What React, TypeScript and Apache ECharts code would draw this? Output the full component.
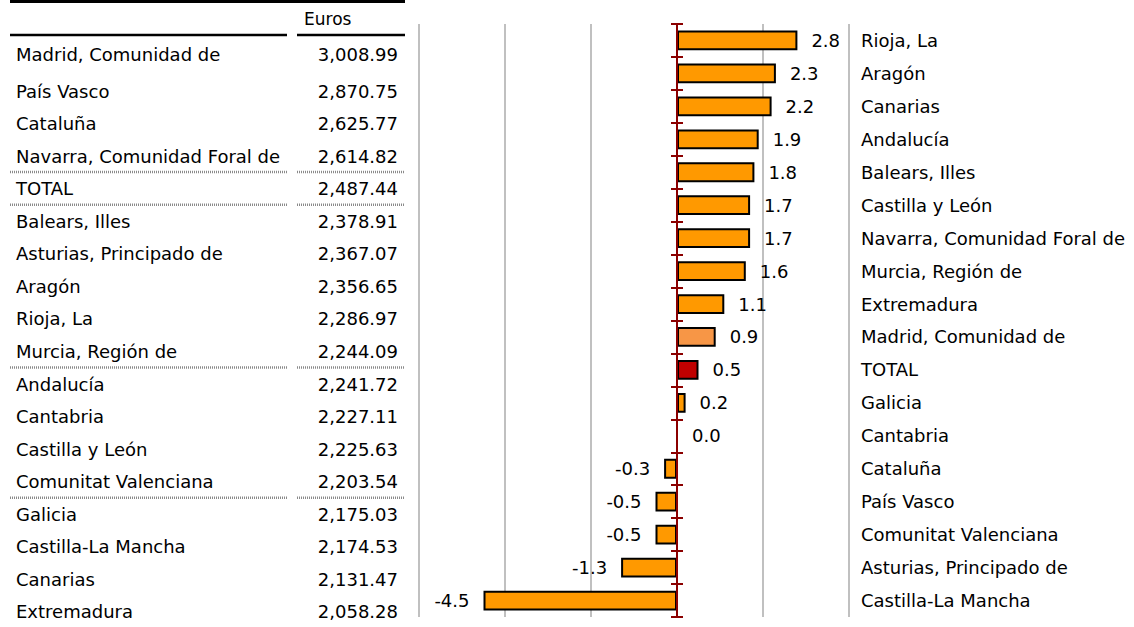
import React, { useEffect, useRef } from "react";
import * as echarts from "echarts";

// Chart: annual growth rate (%) by region, top to bottom
const categories = [
  "Rioja, La",
  "Aragón",
  "Canarias",
  "Andalucía",
  "Balears, Illes",
  "Castilla y León",
  "Navarra, Comunidad Foral de",
  "Murcia, Región de",
  "Extremadura",
  "Madrid, Comunidad de",
  "TOTAL",
  "Galicia",
  "Cantabria",
  "Cataluña",
  "País Vasco",
  "Comunitat Valenciana",
  "Asturias, Principado de",
  "Castilla-La Mancha",
];
const growth = [2.8, 2.3, 2.2, 1.9, 1.8, 1.7, 1.7, 1.6, 1.1, 0.9, 0.5, 0.2, 0.0, -0.3, -0.5, -0.5, -1.3, -4.5];

// Table: euros by region
const tableHeader = "Euros";
const tableNames = [
  "Madrid, Comunidad de",
  "País Vasco",
  "Cataluña",
  "Navarra, Comunidad Foral de",
  "TOTAL",
  "Balears, Illes",
  "Asturias, Principado de",
  "Aragón",
  "Rioja, La",
  "Murcia, Región de",
  "Andalucía",
  "Cantabria",
  "Castilla y León",
  "Comunitat Valenciana",
  "Galicia",
  "Castilla-La Mancha",
  "Canarias",
  "Extremadura",
];
const tableEuros = [
  3008.99, 2870.75, 2625.77, 2614.82, 2487.44, 2378.91, 2367.07, 2356.65, 2286.97,
  2244.09, 2241.72, 2227.11, 2225.63, 2203.54, 2175.03, 2174.53, 2131.47, 2058.28,
];
// rows after which a dotted separator is drawn
const separatorAfter = ["Navarra, Comunidad Foral de", "TOTAL", "Murcia, Región de", "Comunitat Valenciana"];

const FONT = "DejaVu Sans";
const FS = 18;

function barColor(name: string): string {
  if (name === "TOTAL") return "#C00000";
  if (name === "Madrid, Comunidad de") return "#F79646";
  return "#FF9900";
}

function fmtEuro(v: number): string {
  return v.toLocaleString("en-US", { minimumFractionDigits: 2, maximumFractionDigits: 2 });
}

export default function App() {
  const ref = useRef<HTMLDivElement>(null);

  useEffect(() => {
    if (!ref.current) return;
    const chart = echarts.init(ref.current, undefined, { renderer: "svg" });

    const rowY = (i: number) => (i === 0 ? 54 : 91 + (i - 1) * 32.56);

    const graphics: any[] = [];
    // top thick rule
    graphics.push({ type: "line", shape: { x1: 10, y1: 1.5, x2: 405, y2: 1.5 }, style: { stroke: "#000", lineWidth: 3 } });
    // header
    graphics.push({
      type: "text",
      x: 304,
      y: 19,
      style: { text: tableHeader, fill: "#000", font: `${FS - 1}px "${FONT}"`, textVerticalAlign: "middle" },
    });
    graphics.push({ type: "line", shape: { x1: 10, y1: 35, x2: 287, y2: 35 }, style: { stroke: "#000", lineWidth: 2.5 } });
    graphics.push({ type: "line", shape: { x1: 297, y1: 35, x2: 405, y2: 35 }, style: { stroke: "#000", lineWidth: 2.5 } });

    tableNames.forEach((name, i) => {
      const y = rowY(i);
      graphics.push({
        type: "text",
        x: 16,
        y,
        style: { text: name, fill: "#000", font: `${FS}px "${FONT}"`, textVerticalAlign: "middle" },
      });
      graphics.push({
        type: "text",
        x: 398,
        y,
        style: {
          text: fmtEuro(tableEuros[i]),
          fill: "#000",
          font: `${FS}px "${FONT}"`,
          textAlign: "right",
          textVerticalAlign: "middle",
        },
      });
      if (separatorAfter.includes(name)) {
        const sy = y + 16;
        graphics.push({
          type: "line",
          shape: { x1: 10, y1: sy, x2: 287, y2: sy },
          style: { stroke: "#8a8a8a", lineWidth: 2.5, lineDash: [1, 1] },
        });
        graphics.push({
          type: "line",
          shape: { x1: 297, y1: sy, x2: 405, y2: sy },
          style: { stroke: "#8a8a8a", lineWidth: 2.5, lineDash: [1, 1] },
        });
      }
    });

    const axisRed = "#8B0000";
    const gridBox = { left: 419, top: 24, width: 430, height: 593, containLabel: false, outerBoundsMode: "none" };

    chart.setOption({
      animation: false,
      textStyle: { fontFamily: FONT, fontSize: FS },
      grid: [gridBox, gridBox],
      xAxis: [
        {
          type: "value",
          gridIndex: 0,
          min: -6,
          max: 4,
          interval: 2,
          axisLine: { show: false },
          axisTick: { show: false },
          axisLabel: { show: false },
          splitLine: { show: true, lineStyle: { color: "#C0C0C0", width: 2 } },
        },
        {
          type: "value",
          gridIndex: 1,
          min: -6,
          max: 4,
          interval: 2,
          axisLine: { show: false },
          axisTick: { show: false },
          axisLabel: { show: false },
          splitLine: { show: false },
        },
      ],
      yAxis: [
        {
          type: "category",
          gridIndex: 0,
          data: categories,
          inverse: true,
          position: "left",
          z: 5,
          axisLine: { show: true, onZero: true, lineStyle: { color: axisRed, width: 2 } },
          axisTick: { show: true, length: 6, inside: false, lineStyle: { color: axisRed, width: 2 } },
          axisLabel: { show: false },
          splitLine: { show: false },
        },
        {
          type: "category",
          gridIndex: 0,
          data: categories,
          inverse: true,
          position: "right",
          axisLine: { show: false, onZero: false },
          axisTick: { show: false },
          axisLabel: {
            show: true,
            margin: 12,
            align: "left",
            color: "#000",
            fontFamily: FONT,
            fontSize: FS,
          },
          splitLine: { show: false },
        },
        {
          type: "category",
          gridIndex: 1,
          data: categories,
          inverse: true,
          position: "left",
          z: 5,
          axisLine: { show: false, onZero: true },
          axisTick: { show: true, length: 6, inside: true, lineStyle: { color: axisRed, width: 2 } },
          axisLabel: { show: false },
          splitLine: { show: false },
        },
      ],
      series: [
        {
          type: "bar",
          xAxisIndex: 0,
          yAxisIndex: 0,
          barWidth: "60%",
          data: growth.map((v, i) => ({
            value: v,
            itemStyle: { color: barColor(categories[i]) },
            label: { position: v < 0 ? "left" : "right" },
          })),
          itemStyle: { borderColor: "#000", borderWidth: 2 },
          label: {
            show: true,
            distance: 14,
            color: "#000",
            fontFamily: FONT,
            fontSize: FS,
            formatter: (p: any) => Number(p.value).toFixed(1),
          },
        },
      ],
      graphic: graphics,
    });

    return () => chart.dispose();
  }, []);

  return (
    <div
      ref={ref}
      style={{ position: "absolute", left: 0, top: 0, width: 1134, height: 627, background: "#fff" }}
    />
  );
}
